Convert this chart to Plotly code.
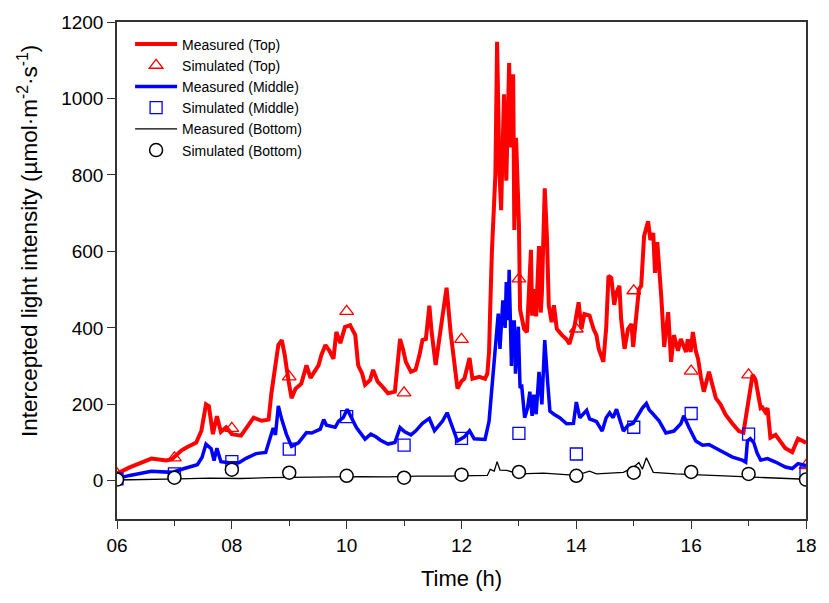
import plotly.graph_objects as go

# Measured light interception (hourly clock time, µmol m-2 s-1)
top_time = [6.00, 6.22, 6.60, 6.86, 6.96, 7.12, 7.21, 7.38, 7.47, 7.55, 7.60, 7.67, 7.74, 7.81, 7.90,
            8.00, 8.16, 8.38, 8.52, 8.64, 8.69, 8.76, 8.81, 8.87, 8.92, 8.99, 9.04, 9.11, 9.21, 9.30,
            9.37, 9.51, 9.56, 9.63, 9.70, 9.77, 9.82, 9.89, 9.97, 10.06, 10.15, 10.20, 10.27, 10.32,
            10.41, 10.46, 10.54, 10.63, 10.72, 10.84, 10.93, 10.98, 11.03, 11.12, 11.20, 11.27, 11.32,
            11.38, 11.44, 11.48, 11.55, 11.63, 11.70, 11.74, 11.81, 11.89, 11.93, 12.00, 12.05, 12.14,
            12.19, 12.31, 12.41, 12.45, 12.48, 12.50, 12.53, 12.59, 12.62, 12.66, 12.69, 12.74, 12.78,
            12.83, 12.85, 12.90, 12.92, 12.95, 13.00, 13.02, 13.05, 13.09, 13.14, 13.17, 13.21, 13.23,
            13.26, 13.30, 13.35, 13.38, 13.40, 13.45, 13.49, 13.52, 13.57, 13.61, 13.66, 13.75, 13.83,
            13.88, 13.97, 14.04, 14.09, 14.14, 14.23, 14.30, 14.35, 14.39, 14.47, 14.52, 14.56, 14.61,
            14.66, 14.70, 14.75, 14.78, 14.84, 14.90, 14.96, 14.99, 15.04, 15.09, 15.13, 15.18, 15.25,
            15.29, 15.34, 15.37, 15.41, 15.46, 15.48, 15.53, 15.60, 15.65, 15.70, 15.77, 15.82, 15.91,
            15.94, 15.99, 16.03, 16.08, 16.12, 16.17, 16.22, 16.31, 16.38, 16.43, 16.51, 16.60, 16.72,
            16.83, 16.91, 16.95, 16.98, 17.03, 17.07, 17.12, 17.17, 17.21, 17.24, 17.29, 17.33, 17.38,
            17.47, 17.55, 17.64, 17.76, 17.86, 17.93, 18.00]
top_measured = [19, 35, 58, 53, 57, 79, 87, 100, 131, 200, 195, 122, 169, 128, 140,
                122, 118, 165, 157, 160, 230, 300, 355, 368, 330, 259, 216, 241, 254, 302,
                269, 302, 329, 355, 340, 319, 389, 360, 402, 407, 381, 302, 280, 251,
                264, 290, 259, 245, 229, 233, 371, 345, 311, 285, 290, 330, 368,
                371, 458, 389, 303, 389, 476, 505, 389, 293, 241, 260, 267, 321,
                267, 272, 267, 280, 337, 450, 601, 800, 1148, 811, 708, 1011, 785,
                1093, 872, 1063, 656, 897, 674, 448, 430, 397, 389, 474, 604, 432,
                501, 430, 614, 440, 490, 765, 630, 459, 415, 459, 397, 381, 370,
                358, 406, 467, 397, 436, 432, 397, 381, 345, 311, 400, 536, 530,
                460, 493, 510, 423, 345, 397, 410, 350, 432, 501, 510, 640, 679,
                630, 648, 544, 624, 536, 480, 350, 441, 311, 381, 340, 371, 337,
                370, 337, 389, 340, 319, 270, 233, 285, 240, 216, 200, 173, 149,
                130, 126, 160, 200, 233, 277, 265, 230, 190, 192, 180, 190, 113,
                120, 104, 85, 75, 110, 105, 99]

mid_time = [6.00, 6.22, 6.60, 6.96, 7.17, 7.40, 7.48, 7.55, 7.64, 7.69, 7.74, 7.81, 7.95, 8.13, 8.24,
            8.42, 8.59, 8.67, 8.72, 8.76, 8.81, 8.87, 8.95, 9.04, 9.16, 9.30, 9.39, 9.54, 9.60, 9.65,
            9.80, 9.86, 9.94, 10.01, 10.08, 10.17, 10.32, 10.42, 10.51, 10.59, 10.72, 10.84, 10.93,
            11.01, 11.12, 11.20, 11.32, 11.44, 11.53, 11.60, 11.67, 11.75, 11.84, 11.93, 12.05, 12.14,
            12.22, 12.41, 12.48, 12.53, 12.59, 12.64, 12.67, 12.72, 12.76, 12.78, 12.81, 12.83, 12.87,
            12.88, 12.92, 12.94, 12.99, 13.02, 13.05, 13.10, 13.15, 13.19, 13.23, 13.26, 13.30, 13.35,
            13.40, 13.45, 13.50, 13.54, 13.61, 13.71, 13.83, 13.95, 14.00, 14.06, 14.18, 14.23, 14.35,
            14.45, 14.52, 14.58, 14.64, 14.70, 14.82, 14.90, 14.99, 15.08, 15.15, 15.22, 15.27, 15.34,
            15.44, 15.56, 15.70, 15.82, 15.87, 15.96, 16.08, 16.20, 16.31, 16.43, 16.55, 16.72, 16.89,
            16.95, 16.98, 17.03, 17.09, 17.15, 17.21, 17.33, 17.47, 17.64, 17.76, 17.86, 18.00]
mid_measured = [6, 14, 25, 22, 32, 42, 61, 96, 84, 53, 85, 50, 47, 48, 58,
                71, 74, 113, 138, 120, 196, 160, 122, 90, 99, 126, 125, 135, 160, 145,
                140, 156, 165, 187, 165, 139, 109, 122, 115, 106, 96, 100, 139,
                128, 120, 130, 150, 163, 131, 145, 156, 178, 144, 104, 115, 131,
                110, 108, 156, 251, 345, 437, 345, 472, 400, 520, 420, 552, 300,
                415, 415, 280, 403, 243, 246, 165, 190, 233, 170, 225, 174, 285,
                200, 368, 259, 182, 174, 165, 149, 150, 206, 165, 184, 162, 155,
                130, 165, 178, 165, 187, 130, 145, 150, 174, 190, 202, 185, 174,
                157, 125, 130, 149, 170, 140, 104, 93, 95, 85, 75, 62, 54,
                49, 104, 110, 100, 72, 54, 58, 49, 36, 32, 45, 40]

bot_time = [6.00, 6.57, 7.08, 7.60, 8.13, 8.64, 9.16, 9.68, 10.20, 10.72, 11.24, 11.76, 12.10, 12.45,
            12.50, 12.57, 12.62, 12.67, 12.79, 13.00, 13.43, 13.83, 14.00, 14.23, 14.35, 14.82, 14.99,
            15.09, 15.15, 15.22, 15.27, 15.34, 15.73, 16.25, 16.99, 18.00]
bot_measured = [2, 3, 5, 7, 6, 8, 9, 10, 11, 10, 12, 12, 13, 14,
                30, 25, 50, 28, 27, 18, 20, 16, 14, 25, 18, 22, 35,
                48, 30, 60, 45, 22, 18, 14, 10, 4]

# Simulated values at whole hours
sim_hours = [6, 7, 8, 9, 10, 11, 12, 13, 14, 15, 16, 17, 18]
top_simulated = [18, 60, 137, 272, 443, 230, 370, 528, 397, 497, 287, 277, 40]
mid_simulated = [5, 18, 50, 83, 168, 93, 111, 124, 70, 140, 176, 122, 20]
bot_simulated = [3, 8, 29, 21, 13, 8, 16, 23, 13, 21, 23, 18, 3]

tick_hours = [6, 8, 10, 12, 14, 16, 18]
tick_labels = ["06", "08", "10", "12", "14", "16", "18"]

RED = "#ff0000"
BLUE = "#0000ff"
AXIS = "#333333"

fig = go.Figure()
fig.add_trace(go.Scatter(x=top_time, y=top_measured, mode="lines", name="Measured (Top)",
                         line=dict(color=RED, width=4)))
fig.add_trace(go.Scatter(x=sim_hours, y=top_simulated, mode="markers", name="Simulated (Top)",
                         marker=dict(symbol="triangle-up-open", size=12, color=RED,
                                     line=dict(width=1.3, color=RED))))
fig.add_trace(go.Scatter(x=mid_time, y=mid_measured, mode="lines", name="Measured (Middle)",
                         line=dict(color=BLUE, width=3.5)))
fig.add_trace(go.Scatter(x=sim_hours, y=mid_simulated, mode="markers", name="Simulated (Middle)",
                         marker=dict(symbol="square-open", size=12, color=BLUE,
                                     line=dict(width=1.3, color=BLUE))))
fig.add_trace(go.Scatter(x=bot_time, y=bot_measured, mode="lines", name="Measured (Bottom)",
                         line=dict(color="black", width=1.3)))
fig.add_trace(go.Scatter(x=sim_hours, y=bot_simulated, mode="markers", name="Simulated (Bottom)",
                         marker=dict(symbol="circle", size=13, color="white",
                                     line=dict(width=1.5, color="black"))))

fig.update_layout(
    width=829, height=603,
    margin=dict(l=117, r=18, t=17, b=84),
    paper_bgcolor="white", plot_bgcolor="white",
    font=dict(family="Liberation Sans, Arial, sans-serif", color="black"),
    showlegend=True,
    legend=dict(x=0.019, y=0.987, xanchor="left", yanchor="top",
                bgcolor="rgba(0,0,0,0)", font=dict(size=14), tracegroupgap=0,
                itemwidth=42),
    annotations=[dict(
        text="Intercepted light intensity (µmol·m<sup>-2</sup>·s<sup>-1</sup>)",
        xref="paper", yref="paper", x=-0.13, y=0.56,
        xanchor="center", yanchor="middle", textangle=-90, showarrow=False,
        font=dict(size=22.5),
    )],
)
fig.update_xaxes(
    range=[6, 18], tickvals=tick_hours, ticktext=tick_labels,
    showgrid=False, zeroline=False, showline=True, linecolor=AXIS, linewidth=1.5,
    mirror=True, ticks="outside", ticklen=8, tickwidth=1.3, tickcolor=AXIS,
    tickfont=dict(size=19),
    minor=dict(ticks="outside", dtick=1, ticklen=5, tickwidth=1.3, tickcolor=AXIS),
    title=dict(text="Time (h)", font=dict(size=22), standoff=16),
)
fig.update_yaxes(
    range=[-100, 1200], tickvals=[0, 200, 400, 600, 800, 1000, 1200],
    showgrid=False, zeroline=False, showline=True, linecolor=AXIS, linewidth=1.5,
    mirror=True, ticks="outside", ticklen=8, tickwidth=1.3, tickcolor=AXIS,
    tickfont=dict(size=19),
)

fig.write_html("out.html")
